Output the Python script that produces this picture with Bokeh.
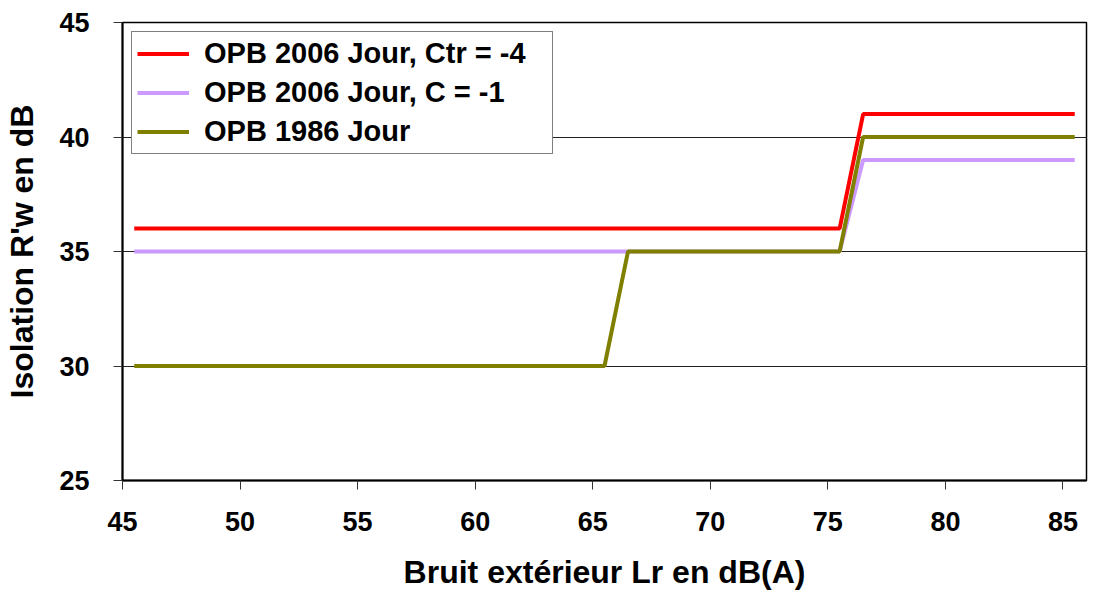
from bokeh.plotting import figure
from bokeh.models import Range1d, FixedTicker, Legend, LegendItem, ColumnDataSource
from bokeh.transform import dodge
from bokeh.embed import file_html
from bokeh.resources import INLINE

# Data (category values; points drawn at category centres)
red_x = [45, 75, 76, 85]
red_y = [36, 36, 41, 41]
lilac_x = [45, 75, 76, 85]
lilac_y = [35, 35, 39, 39]
olive_x = [45, 65, 66, 75, 76, 85]
olive_y = [30, 30, 35, 35, 40, 40]

series_names = ["OPB 2006 Jour, Ctr = -4", "OPB 2006 Jour, C = -1", "OPB 1986 Jour"]
x_ticks = [45, 50, 55, 60, 65, 70, 75, 80, 85]
y_ticks = [25, 30, 35, 40, 45]

FONT = "Liberation Sans"

p = figure(width=1088, height=594, output_backend="svg", toolbar_location=None,
           x_range=Range1d(45, 86), y_range=Range1d(25, 45),
           min_border_left=122, min_border_right=2, min_border_top=22, min_border_bottom=114)
p.background_fill_color = "white"
p.border_fill_color = "white"
p.outline_line_color = "black"
p.outline_line_width = 1.5

# axes
p.xaxis.ticker = FixedTicker(ticks=x_ticks)
p.yaxis.ticker = FixedTicker(ticks=y_ticks)
for ax in (p.xaxis, p.yaxis):
    ax.axis_line_color = "black"
    ax.axis_line_width = 2
    ax.major_tick_line_color = "#333333"
    ax.major_tick_line_width = 1
    ax.major_tick_out = 9
    ax.major_tick_in = 0
    ax.minor_tick_line_color = None
    ax.major_label_text_font = FONT
    ax.major_label_text_font_style = "bold"
    ax.major_label_text_font_size = "27px"
    ax.major_label_text_color = "black"
    ax.axis_label_text_font = FONT
    ax.axis_label_text_font_style = "bold"
    ax.axis_label_text_font_size = "32px"
    ax.axis_label_text_color = "black"
p.xaxis.major_label_standoff = 22
p.yaxis.major_label_standoff = 24
p.xaxis.axis_label = "Bruit extérieur Lr en dB(A)"
p.yaxis.axis_label = "Isolation R'w en dB"
p.xaxis.axis_label_standoff = 20
p.yaxis.axis_label_standoff = 16

p.xgrid.grid_line_color = None
p.ygrid.ticker = FixedTicker(ticks=[30, 35, 40])
p.ygrid.grid_line_color = "#222222"
p.ygrid.grid_line_width = 1

src_r = ColumnDataSource(dict(x=red_x, y=red_y))
src_l = ColumnDataSource(dict(x=lilac_x, y=lilac_y))
src_o = ColumnDataSource(dict(x=olive_x, y=olive_y))

r1 = p.line(x=dodge("x", 0.5), y="y", source=src_r, line_color="#FF0000", line_width=4)
r2 = p.line(x=dodge("x", 0.5), y="y", source=src_l, line_color="#CC99FF", line_width=4)
r3 = p.line(x=dodge("x", 0.5), y="y", source=src_o, line_color="#808000", line_width=4)

legend = Legend(items=[LegendItem(label=series_names[0], renderers=[r1]),
                       LegendItem(label=series_names[1], renderers=[r2]),
                       LegendItem(label=series_names[2], renderers=[r3])],
                location="top_left")
legend.margin = 9
legend.padding = 5
legend.spacing = 6
legend.glyph_width = 52
legend.glyph_height = 33
legend.label_height = 33
legend.label_width = 343
legend.label_standoff = 15
legend.label_text_font = FONT
legend.label_text_font_style = "bold"
legend.label_text_font_size = "29px"
legend.label_text_color = "black"
legend.border_line_color = "black"
legend.border_line_width = 1
legend.background_fill_color = "white"
legend.background_fill_alpha = 1
p.add_layout(legend)

open("out.html", "w").write(file_html(p, INLINE))
